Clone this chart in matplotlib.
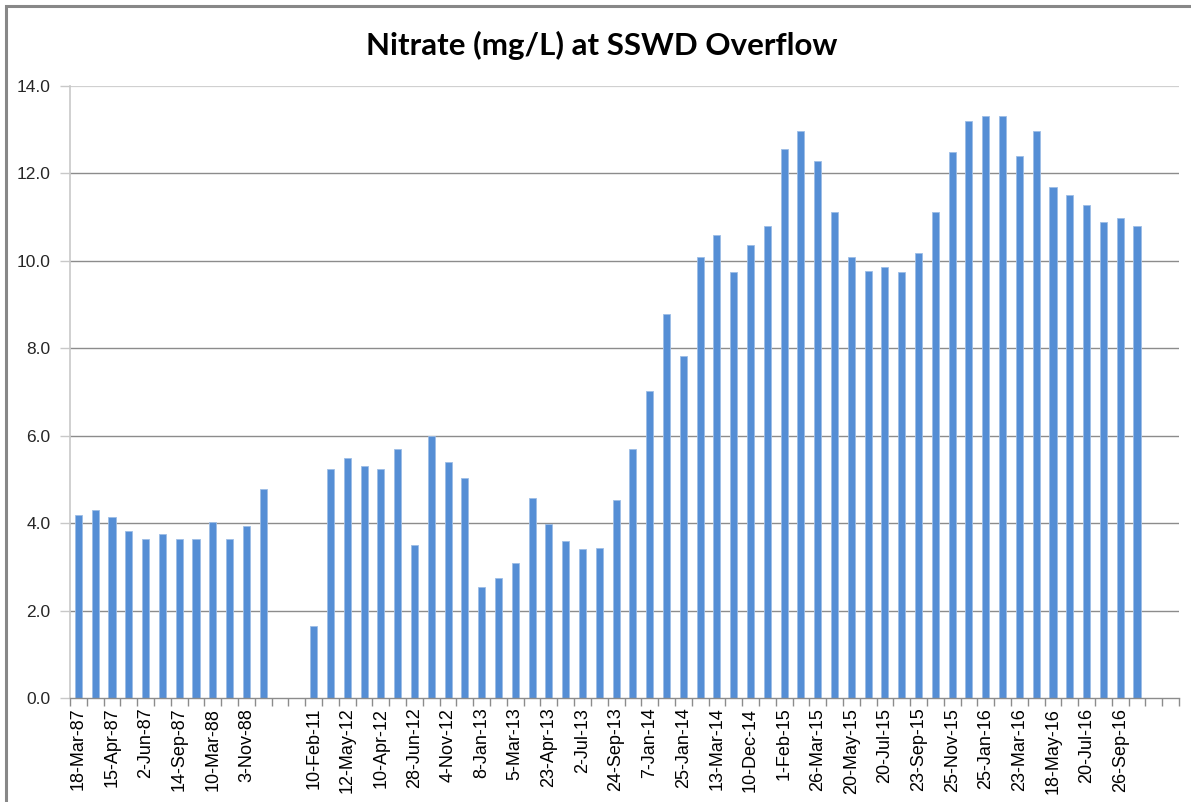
import numpy as np
import matplotlib
matplotlib.use('Agg')
import matplotlib.pyplot as plt
from matplotlib.patches import Rectangle

# Nitrato no overflow do SSWD (NaN = sem amostra)
nitrate = [
    4.18, 4.30, 4.13, 3.83, 3.63, 3.75, 3.63, 3.63, 4.03, 3.63, 3.94, 4.77,
    np.nan, np.nan,
    1.65, 5.23, 5.50, 5.30, 5.23, 5.70, 3.49, 5.99, 5.41, 5.04,
    2.53, 2.75, 3.08, 4.57, 3.99, 3.60, 3.40, 3.43, 4.53, 5.69,
    7.02, 8.78, 7.83, 10.09, 10.60, 9.75, 10.37, 10.79, 12.57, 12.97,
    12.29, 11.11, 10.09, 9.77, 9.87, 9.75, 10.18, 11.11, 12.50, 13.20,
    13.31, 13.31, 12.40, 12.97, 11.68, 11.50, 11.28, 10.89, 10.99, 10.79,
    np.nan, np.nan,
]

# rotulos mostrados (um a cada duas categorias, como no Excel)
shown_labels = [
    '18-Mar-87', '15-Apr-87', '2-Jun-87', '14-Sep-87', '10-Mar-88', '3-Nov-88',
    '', '10-Feb-11', '12-May-12', '10-Apr-12', '28-Jun-12', '4-Nov-12',
    '8-Jan-13', '5-Mar-13', '23-Apr-13', '2-Jul-13', '24-Sep-13', '7-Jan-14',
    '25-Jan-14', '13-Mar-14', '10-Dec-14', '1-Feb-15', '26-Mar-15', '20-May-15',
    '20-Jul-15', '23-Sep-15', '25-Nov-15', '25-Jan-16', '23-Mar-16', '18-May-16',
    '20-Jul-16', '26-Sep-16', '',
]

y_ticks = [0, 2, 4, 6, 8, 10, 12, 14]

x = np.arange(len(nitrate))
vals = np.nan_to_num(np.array(nitrate, dtype=float))

fig = plt.figure(figsize=(11.91, 8.02), dpi=100)
ax = fig.add_axes([70/1191, 1-698/802, (1179-70)/1191, (698-86)/802])

# grade horizontal
for yv in y_ticks[1:]:
    ax.axhline(yv, color='#d0d0d0' if yv == 14 else '#8c8c8c', lw=1.6 if yv == 14 else 1.0, zorder=0)

ax.bar(x, vals, width=0.42, color='#558ed5', edgecolor='#9dbde6', linewidth=0.6, zorder=2)

ax.set_xlim(-0.5, len(nitrate) - 0.5)
ax.set_ylim(0, 14)
ax.set_yticks(y_ticks)
ax.set_yticklabels([f'{v:.1f}' for v in y_ticks], fontsize=12.5, color='#262626',
                   family='Liberation Sans')
ax.tick_params(axis='y', length=7, color='#c8c8c8', width=1, pad=7)

ax.set_xticks(x[::2])
ax.set_xticklabels(shown_labels, rotation=90, fontsize=13, color='#000000',
                   family='Liberation Sans')
ax.set_xticks(np.arange(-0.5, len(nitrate), 1), minor=True)
ax.tick_params(axis='x', which='major', length=0, pad=7)
ax.tick_params(axis='x', which='minor', length=6, color='#8c8c8c', width=1)

for s in ['top', 'right']:
    ax.spines[s].set_visible(False)
ax.spines['left'].set_color('#c8c8c8')
ax.spines['left'].set_linewidth(1.2)
ax.spines['bottom'].set_color('#8c8c8c')
ax.spines['bottom'].set_linewidth(1.0)

fig.text(602/1191, 1-45/802, 'Nitrate (mg/L) at SSWD Overflow', ha='center', va='center',
         fontsize=22.5, fontweight='bold', family='Lato', color='#000000')

# moldura do grafico
fig.add_artist(Rectangle((6/1191, -0.1), 1.1, 1 - 6/802 + 0.1, transform=fig.transFigure,
                         fill=False, edgecolor='#888888', lw=2.2))

fig.savefig('out.png', dpi=100)
